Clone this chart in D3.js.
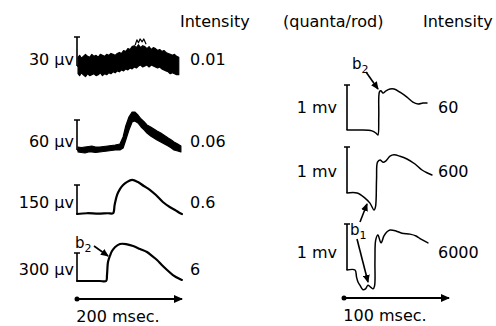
<!DOCTYPE html>
<meta charset="utf-8">
<style>
body { margin: 0; background: #fff; }
svg { background: #fff; }
text { font-family: "DejaVu Sans", sans-serif; font-size: 16px; fill: #000; }
.trace { fill: none; stroke: #000; stroke-linejoin: round; stroke-linecap: round; }
.band { fill: #000; stroke: #000; stroke-width: 1.2; stroke-linejoin: round; }
.bar, .arrow { fill: none; stroke: #000; stroke-width: 1.6; }
.taxis { stroke: #000; stroke-width: 2; }
</style>
<svg width="496" height="326"></svg>
<script src="https://d3js.org/d3.v7.min.js"></script>
<script>

// left column, noisy records: [msec, low microvolts, high microvolts]
var trace001 = [[2,-8,9],[5,-10,11],[8,-7,8],[12,-9,10],[16,-11,12],[20,-8,10],[24,-10,9],[28,-9,12],
  [32,-8,10],[36,-10,11],[40,-9,9],[44,-7,12],[48,-10,11],[52,-8,10],[56,-9,12],[60,-7,11],[64,-8,13],
  [68,-6,12],[72,-7,11],[76,-5,13],[80,-6,14],[84,-4,13],[88,-5,16],[92,-3,15],[96,-4,18],[100,-2,17],
  [104,-3,20],[108,-1,21],[112,-2,19],[116,0,22],[120,1,19],[124,-1,21],[128,0,20],[132,1,18],[136,-1,20],
  [140,1,17],[144,0,19],[148,-1,18],[152,-2,16],[156,-1,17],[160,-3,15],[164,-4,16],[168,-5,14],
  [172,-6,13],[176,-8,12],[180,-7,11],[184,-8,12],[188,-9,10],[192,-9,9]];
var spikes001 = [[110,22],[113,27],[116,24],[119,28],[123,25],[126,28],[130,23]];
var trace006 = [[2,-4,6],[8,-5,5],[15,-6,6],[22,-4,7],[28,-4,8],[35,-5,6],[43,-4,6],[50,-3,7],[58,-2,8],
  [65,-1,9],[72,0,10],[81,0,12],[87,4,26],[92,20,48],[98,40,66],[104,56,76],[109,58,76],[115,54,70],
  [121,46,62],[127,40,56],[132,34,50],[139,28,46],[145,24,42],[151,20,38],[158,16,34],[165,12,29],
  [172,8,24],[178,4,20],[183,0,16],[190,-2,12],[196,-4,8]];

// left column, clean records: [msec, microvolts]
var trace06 = [[0,0],[19,4],[40,2],[58,4],[68,4],[71,47],[75.5,98],[81,129],[87,150],[94,165],[104,176],
  [115,165],[126,145],[138,124],[149,98],[162,62],[175,36],[185,21],[194,5],[198,0]];
var trace6 = [[0,0],[24.5,0],[43,0],[55,0],[56.6,64],[58.5,203],[62,268],[66,321],[72,364],[81,396],
  [92.5,396],[106,375],[119,342],[132,310],[141.5,268],[151,225],[160,171],[170,118],[181,64],[194,21],[198,11]];

// right column: [msec, millivolts]
var trace60 = [[2.8,0],[15,0],[26.4,-0.02],[30.2,-0.07],[32,-0.11],[32.8,0.3],[33.5,0.85],[34.9,0.87],
  [36.8,0.82],[39.6,0.87],[43.4,0.91],[47.2,0.91],[52.8,0.84],[59.4,0.73],[65,0.62],[69.8,0.58],[74.5,0.6],[78.3,0.6]];
var trace600 = [[2.8,0],[12.3,0],[19.8,-0.11],[24.5,-0.22],[28.3,-0.37],[29.7,-0.3],[30.7,0.3],[31.6,0.67],
  [34,0.72],[36.8,0.67],[39.6,0.7],[43.4,0.8],[47.2,0.83],[52.8,0.8],[59.4,0.74],[67,0.63],[73.6,0.5],[79.2,0.43],[83,0.39]];
var trace6000 = [[2.8,0],[10.4,0],[11.8,-0.15],[13.2,-0.26],[15,-0.33],[17.9,-0.43],[20.3,-0.41],[22.6,-0.33],
  [25,-0.37],[27.4,-0.41],[28.8,-0.35],[29.2,0.2],[29.9,0.65],[32,0.76],[34.9,0.59],[37.7,0.74],[40.6,0.83],
  [43.4,0.87],[49,0.85],[54.7,0.8],[62.3,0.78],[68,0.74],[72.6,0.67],[79.2,0.59]];

var leftIntensity = ["0.01", "0.06", "0.6", "6"];
var leftScale = ["30 \u03bcv", "60 \u03bcv", "150 \u03bcv", "300 \u03bcv"];
var leftBarValue = [30, 60, 150, 300];
var rightIntensity = ["60", "600", "6000"];
var rightBarValue = [1, 1, 1];

var svg = d3.select("svg");

var xl = d3.scaleLinear().domain([0, 200]).range([77, 183]);
var xr = d3.scaleLinear().domain([0, 100]).range([344, 450]);

var defs = svg.append("defs");
defs.append("marker").attr("id", "head")
    .attr("markerUnits", "userSpaceOnUse")
    .attr("markerWidth", 8).attr("markerHeight", 7)
    .attr("refX", 7).attr("refY", 3.5).attr("orient", "auto")
  .append("path").attr("d", "M0,0L8,3.5L0,7Z").attr("fill", "#000");
defs.append("marker").attr("id", "bighead")
    .attr("markerUnits", "userSpaceOnUse")
    .attr("markerWidth", 9).attr("markerHeight", 8)
    .attr("refX", 8).attr("refY", 4).attr("orient", "auto")
  .append("path").attr("d", "M0,0L9,4L0,8Z").attr("fill", "#000");

// rows: baseline / bar top in pixels
var leftRows = [
  {data: trace001, base: 66, top: 37, band: true, lab: 65},
  {data: trace006, base: 150, top: 120, band: true, lab: 147},
  {data: trace06, base: 214, top: 185, width: 2.2, lab: 208},
  {data: trace6, base: 281, top: 253, width: 2.2, lab: 275}
];
var rightRows = [
  {data: trace60, base: 130, top: 85, width: 1.5, lab: 113},
  {data: trace600, base: 193, top: 147, width: 1.5, lab: 177},
  {data: trace6000, base: 270, top: 224, width: 1.5, lab: 258}
];

function drawRow(row, x, barX, barValue, scaleText, intens, intensX, scaleX) {
  var y = d3.scaleLinear().domain([0, barValue]).range([row.base, row.top]);

  svg.append("path").attr("class", "bar")
      .attr("d", "M" + (barX - 3) + "," + y(barValue) + "H" + (barX + 3) +
                 "M" + barX + "," + y(barValue) + "V" + y(0));

  if (row.band) {
    var area = d3.area()
        .x(function(d) { return x(d[0]); })
        .y0(function(d) { return y(d[1]); })
        .y1(function(d) { return y(d[2]); })
        .curve(d3.curveLinear);
    svg.append("path").datum(row.data).attr("class", "band").attr("d", area);
    svg.append("line").attr("class", "bar")
        .attr("x1", barX).attr("x2", x(row.data[0][0]) + 1)
        .attr("y1", y(0)).attr("y2", y(0));
  } else {
    var line = d3.line()
        .x(function(d) { return x(d[0]); })
        .y(function(d) { return y(d[1]); })
        .curve(d3.curveCatmullRom.alpha(0.5));
    svg.append("path").datum([[x.invert(barX), 0]].concat(row.data))
        .attr("class", "trace")
        .attr("stroke-width", row.width)
        .attr("d", line);
  }

  svg.append("text").attr("x", scaleX).attr("y", row.lab)
      .attr("text-anchor", "end").text(scaleText);
  svg.append("text").attr("x", intensX).attr("y", row.lab).text(intens);
  return y;
}

var yTop = null;
leftRows.forEach(function(r, i) {
  var y = drawRow(r, xl, 77, leftBarValue[i], leftScale[i], leftIntensity[i], 190, 74);
  if (i === 0) yTop = y;
});
rightRows.forEach(function(r, i) {
  drawRow(r, xr, 347, rightBarValue[i], "1 mv", rightIntensity[i], 438, 337);
});

// thin spikes above the noisy 0.01 record
svg.append("path").datum(spikes001).attr("class", "trace").attr("stroke-width", 1.2)
    .attr("d", d3.line().x(function(d) { return xl(d[0]); }).y(function(d) { return yTop(d[1]); }));

// headers
svg.append("text").attr("x", 180).attr("y", 27).text("Intensity");
svg.append("text").attr("x", 283).attr("y", 27).text("(quanta/rod)");
svg.append("text").attr("x", 423).attr("y", 27).text("Intensity");

// time axes
[[xl, "200 msec.", 299], [xr, "100 msec.", 298]].forEach(function(a) {
  var r = a[0].range();
  svg.append("line").attr("class", "taxis")
      .attr("x1", r[0]).attr("x2", r[1] - 1).attr("y1", a[2]).attr("y2", a[2])
      .attr("marker-end", "url(#bighead)");
  svg.append("circle").attr("cx", r[0]).attr("cy", a[2]).attr("r", 2.5).attr("fill", "#000");
  svg.append("text").attr("x", (r[0] + r[1]) / 2 - 12).attr("y", a[2] + 23)
      .attr("text-anchor", "middle").text(a[1]);
});

// b labels with arrows
function bLabel(x, y, sub) {
  var t = svg.append("text").attr("x", x).attr("y", y).style("font-size", "15px").text("b");
  t.append("tspan").attr("dy", 4).style("font-size", "11px").text(sub);
}
function arrow(x1, y1, x2, y2) {
  svg.append("line").attr("class", "arrow")
      .attr("x1", x1).attr("y1", y1).attr("x2", x2).attr("y2", y2)
      .attr("stroke-width", 1.3).attr("marker-end", "url(#head)");
}
bLabel(75, 248, "2");
arrow(94, 246, 108, 256);
bLabel(352, 69, "2");
arrow(366, 72, 378, 89);
bLabel(350, 235, "1");
arrow(360, 222, 367, 204);
arrow(357, 239, 368, 282);

</script>
